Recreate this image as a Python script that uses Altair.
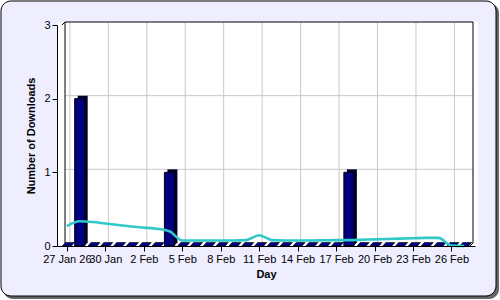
import json
import altair as alt
import pandas as pd

# ---- data ----
days = list(range(32))  # 0 = 27 Jan ... 31 = 27 Feb
downloads = [0, 2, 0, 0, 0, 0, 0, 0, 1, 0, 0, 0, 0, 0, 0, 0,
             0, 0, 0, 0, 0, 0, 1, 0, 0, 0, 0, 0, 0, 0, 0, 0]
trend = [0.27, 0.335, 0.325, 0.305, 0.285, 0.265, 0.25, 0.235, 0.2, 0.075,
         0.075, 0.075, 0.075, 0.075, 0.08, 0.145, 0.08, 0.075, 0.075, 0.075,
         0.078, 0.08, 0.08, 0.085, 0.09, 0.095, 0.1, 0.105, 0.11, 0.11,
         0.005, 0.0]
tick_days = [0, 3, 6, 9, 12, 15, 18, 21, 24, 27, 30]
tick_labels = ["27 Jan 26", "30 Jan", "2 Feb", "5 Feb", "8 Feb", "11 Feb",
               "14 Feb", "17 Feb", "20 Feb", "23 Feb", "26 Feb"]
y_ticks = [0, 1, 2, 3]
y_grid = [1, 2]

# ---- layout / style ----
W, H = 418, 221
XMIN, XMAX = -0.38, 31.45
D = 3
NAVY = "#000080"
FONT = "Liberation Sans"

df = pd.DataFrame({"day": days, "value": downloads, "trend": trend})
bars_df = df[df["value"] > 0]
ticks_df = pd.DataFrame({"day": tick_days})
ygrid_df = pd.DataFrame({"y": y_grid})
one = pd.DataFrame({"a": [0]})

xs = alt.Scale(domain=[XMIN, XMAX], nice=False, zero=False)
ys = alt.Scale(domain=[0, 3], nice=False)

label_expr = json.dumps(tick_labels) + "[round(datum.value / 3)]"
xaxis = alt.Axis(values=tick_days, labelExpr=label_expr, title="Day",
                 tickSize=5, labelPadding=2, titlePadding=4,
                 labelOverlap=False, labelFlush=False, zindex=1)
yaxis = alt.Axis(values=y_ticks, format="d", title="Number of Downloads",
                 tickSize=5, labelPadding=2, titlePadding=7, zindex=1)


def X(field=None, datum=None):
    if field is not None:
        return alt.X(field, type="quantitative", scale=xs, axis=xaxis)
    return alt.X(datum=datum, type="quantitative", scale=xs, axis=xaxis)


def Y(field=None, datum=None):
    if field is not None:
        return alt.Y(field, type="quantitative", scale=ys, axis=yaxis)
    return alt.Y(datum=datum, type="quantitative", scale=ys, axis=yaxis)


# decoration: frame, shadow, back plane
shadow = alt.Chart(one).mark_rect(color="#666666", cornerRadius=10).encode(
    x=alt.value(-54), x2=alt.value(W + 24), y=alt.value(-22), y2=alt.value(H + 53))
frame = alt.Chart(one).mark_rect(fill="#EEEEFF", stroke="black", strokeWidth=1,
                                 cornerRadius=10).encode(
    x=alt.value(-56), x2=alt.value(W + 21), y=alt.value(-24), y2=alt.value(H + 50))
plane = alt.Chart(one).mark_rect(fill="white").encode(
    x=alt.value(0), x2=alt.value(W + D), y=alt.value(-D), y2=alt.value(H))

vgrid = alt.Chart(ticks_df).mark_rule(color="#c8c8c8", strokeWidth=1,
                                      xOffset=D, yOffset=-D, y2Offset=-D).encode(
    x=X("day"), y=Y(datum=0), y2=alt.Y2(datum=3))
hgrid = alt.Chart(ygrid_df).mark_rule(color="#c8c8c8", strokeWidth=1,
                                      xOffset=D, x2Offset=D, yOffset=-D).encode(
    y=Y("y"), x=X(datum=XMIN), x2=alt.X2(datum=XMAX))


def rule(**kw):
    return alt.Chart(one).mark_rule(color="black", strokeWidth=1, **kw)


top_b = rule(xOffset=D, x2Offset=D, yOffset=-D).encode(
    y=Y(datum=3), x=X(datum=XMIN), x2=alt.X2(datum=XMAX))
right_b = rule(xOffset=D, yOffset=-D, y2Offset=-D).encode(
    x=X(datum=XMAX), y=Y(datum=0), y2=alt.Y2(datum=3))
left_b = rule(xOffset=D, yOffset=-D, y2Offset=-D).encode(
    x=X(datum=XMIN), y=Y(datum=0), y2=alt.Y2(datum=3))
tl_b = rule(x2Offset=D, y2Offset=-D).encode(
    x=X(datum=XMIN), x2=alt.X2(datum=XMIN), y=Y(datum=3), y2=alt.Y2(datum=3))
br_b = rule(x2Offset=D, y2Offset=-D).encode(
    x=X(datum=XMAX), x2=alt.X2(datum=XMAX), y=Y(datum=0), y2=alt.Y2(datum=0))

floor_shape = "M -0.45 0 L 0.45 0 L 0.75 -0.35 L -0.15 -0.35 Z"
floor = alt.Chart(df).mark_point(shape=floor_shape, size=400, filled=True,
                                 fill=NAVY, stroke="black", strokeWidth=0.6,
                                 opacity=1).encode(
    x=X("day"), y=Y(datum=0))

side = alt.Chart(bars_df).mark_bar(width=10, color="#00002e", xOffset=D,
                                   yOffset=-D, y2Offset=-D).encode(
    x=X("day"), y=Y("value"), y2=alt.Y2(datum=0))

front = alt.Chart(bars_df).mark_bar(width=10, fill=NAVY, stroke="black",
                                    strokeWidth=1).encode(
    x=X("day"), y=Y("value"), y2=alt.Y2(datum=0))

line = alt.Chart(df).mark_line(color="#30c8c8", strokeWidth=2.6,
                               interpolate="monotone").encode(
    x=X("day"), y=Y("trend"))

chart = alt.layer(
    shadow, frame, plane, vgrid, hgrid, top_b, right_b, left_b, tl_b, br_b,
    floor, side, front, line
).properties(
    width=W, height=H,
    padding={"left": 57, "top": 25, "right": 25, "bottom": 54},
    autosize=alt.AutoSizeParams(type="none"),
    background="white",
).configure_axis(
    labelFont=FONT, labelFontSize=11, labelColor="black",
    titleFont=FONT, titleFontSize=11, titleFontWeight="bold", titleColor="black",
    domainColor="black", tickColor="black", grid=False,
).configure_view(stroke=None)

chart.save("out.html", embed_options={"renderer": "svg", "actions": False})
